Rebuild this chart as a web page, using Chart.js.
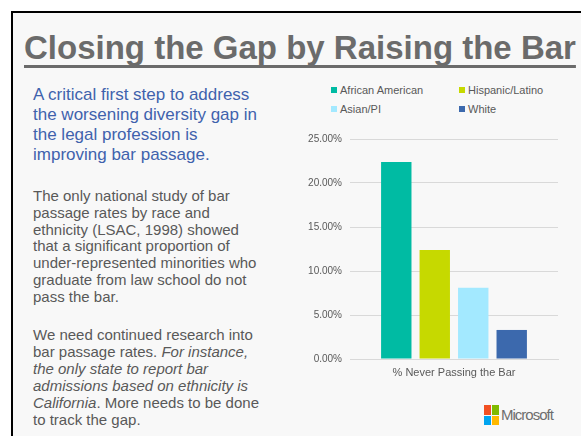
<!DOCTYPE html>
<html>
<head>
<meta charset="utf-8">
<script src="https://cdn.jsdelivr.net/npm/chart.js@4"></script>
<style>
  html, body { margin: 0; padding: 0; background: #fff; }
  body { width: 581px; height: 436px; position: relative; overflow: hidden;
         font-family: "Liberation Sans", Arial, sans-serif; }
  .frame { position: absolute; left: 11px; top: 11px; width: 640px; height: 500px;
           border-left: 2px solid #000; border-top: 2px solid #000; background: #f8f8f8; }
  .title { position: absolute; left: 24px; top: 31px; font-size: 33px; line-height: 33px;
           font-weight: bold; color: #6b6b6b; white-space: nowrap;
           text-decoration: underline; text-decoration-thickness: 3px;
           text-underline-offset: 6px; text-decoration-skip-ink: none; }
  .lead { position: absolute; left: 33px; top: 85px; font-size: 17px; line-height: 20px;
          color: #3f62ad; white-space: nowrap; }
  .body { position: absolute; left: 33px; font-size: 15px; line-height: 16.8px;
          color: #595959; white-space: nowrap; }
  #legend { position: absolute; left: 331px; top: 84px; width: 240px; }
  .li { position: absolute; font-size: 11px; color: #595959; white-space: nowrap; line-height: 13px; }
  .li span { display: inline-block; width: 6px; height: 6px; margin-right: 3px; vertical-align: 1px; }
  #wrap { position: absolute; left: 290px; top: 125px; width: 291px; height: 260px; }
  .logo { position: absolute; left: 484px; top: 405px; width: 15px; height: 20px; }
  .logo i { position: absolute; width: 7px; height: 9.5px; }
  .ms { position: absolute; left: 501px; top: 406px; font-size: 15px; line-height: 18px;
        color: #6e6e6e; letter-spacing: -1px; }
</style>
</head>
<body>
<div class="frame"></div>
<div class="title">Closing the Gap by Raising the Bar</div>
<div class="lead">A critical first step to address<br>the worsening diversity gap in<br>the legal profession is<br>improving bar passage.</div>
<div class="body" style="top:188px">The only national study of bar<br>passage rates by race and<br>ethnicity (LSAC, 1998) showed<br>that a significant proportion of<br>under-represented minorities who<br>graduate from law school do not<br>pass the bar.</div>
<div class="body" style="top:326px;line-height:17px">We need continued research into<br>bar passage rates. <i>For instance,<br>the only state to report bar<br>admissions based on ethnicity is<br>California</i>. More needs to be done<br>to track the gap.</div>
<div id="legend"></div>
<div id="wrap"><canvas id="c"></canvas></div>
<div class="logo">
  <i style="left:0;top:0;background:#f25022"></i><i style="left:8px;top:0;background:#7fba00"></i>
  <i style="left:0;top:10.5px;background:#00a4ef"></i><i style="left:8px;top:10.5px;background:#ffb900"></i>
</div>
<div class="ms">Microsoft</div>
<script>
// data
const categories = ['% Never Passing the Bar'];
const groups     = ['African American', 'Hispanic/Latino', 'Asian/PI', 'White'];
const africanAm  = [22.4];
const hispanic   = [12.4];
const asianPi    = [8.1];
const white      = [3.3];
const yTicks     = [0, 5, 10, 15, 20, 25];

const COLORS = ['#00bba3', '#c6d900', '#a3e9ff', '#3c69ad'];
const series = [africanAm, hispanic, asianPi, white];

// legend 2x2, built from the same arrays
const legendPos = [[0, 0], [128, 0], [0, 19], [128, 19]];
const lg = document.getElementById('legend');
groups.forEach((g, i) => {
  const d = document.createElement('div');
  d.className = 'li';
  d.style.left = legendPos[i][0] + 'px';
  d.style.top  = legendPos[i][1] + 'px';
  d.innerHTML = '<span style="background:' + COLORS[i] + '"></span>' + g;
  lg.appendChild(d);
});

Chart.defaults.font.family = '"Liberation Sans", Arial, sans-serif';
Chart.defaults.color = '#595959';

new Chart(document.getElementById('c'), {
  type: 'bar',
  data: {
    labels: categories,
    datasets: groups.map((g, i) => ({
      label: g, data: series[i], backgroundColor: COLORS[i],
      categoryPercentage: 0.74, barPercentage: 0.79
    }))
  },
  options: {
    responsive: true,
    maintainAspectRatio: false,
    animation: false,
    layout: { padding: { left: 0, right: 23, top: 12, bottom: 0 } },
    plugins: { legend: { display: false }, tooltip: { enabled: false } },
    scales: {
      y: {
        min: 0, max: 25,
        afterFit: s => { s.width = 60; },
        afterBuildTicks: s => { s.ticks = yTicks.map(v => ({ value: v })); },
        ticks: { padding: 8, font: { size: 10 }, callback: v => v.toFixed(2) + '%' },
        grid: { color: '#d9d9d9', drawTicks: false },
        border: { display: false }
      },
      x: {
        afterFit: s => { s.height = 26; },
        ticks: { padding: 7, font: { size: 11 } },
        grid: { display: false, drawTicks: false },
        border: { color: '#d9d9d9' }
      }
    }
  }
});
</script>
</body>
</html>
